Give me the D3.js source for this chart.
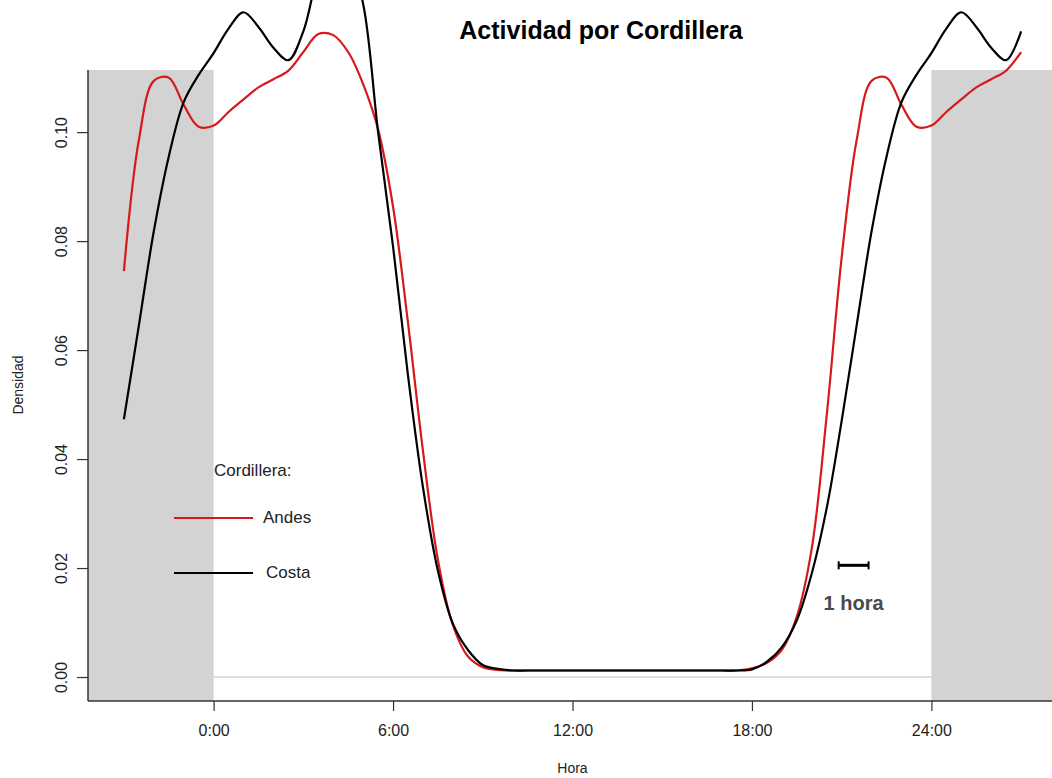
<!DOCTYPE html>
<html>
<head>
<meta charset="utf-8">
<script src="https://cdn.jsdelivr.net/npm/d3@7"></script>
<style>
  body { margin: 0; background: #fff; }
  svg { display: block; font-family: "Liberation Sans", Arial, sans-serif; }
</style>
</head>
<body>
<div id="chart"></div>
<script>
// hours of the day (shown range wraps past 0 and 24)
const hours = [-3, -2.5, -2, -1.5, -1, -0.5, 0, 0.5, 1, 1.5, 2, 2.5, 3, 3.5, 4, 4.5, 5, 5.5, 6, 6.5,
  7, 7.5, 8, 8.5, 9, 9.5, 10, 10.5, 11, 11.5, 12, 12.5, 13, 13.5, 14, 14.5, 15, 15.5, 16, 16.5,
  17, 17.5, 18, 18.5, 19, 19.5, 20, 20.5, 21, 21.5, 22, 22.5, 23, 23.5, 24, 24.5, 25, 25.5, 26, 26.5, 27];

// density, Andes
const andes = [0.0745, 0.0985, 0.1094, 0.1100, 0.1050, 0.1010, 0.1012, 0.1037, 0.1060, 0.1082,
  0.1097, 0.1113, 0.1147, 0.1180, 0.1178, 0.1147, 0.1088, 0.1005, 0.0863, 0.0650,
  0.0415, 0.0215, 0.0095, 0.0038, 0.0018, 0.0013, 0.0012, 0.0012, 0.0012, 0.0012,
  0.0012, 0.0012, 0.0012, 0.0012, 0.0012, 0.0012, 0.0012, 0.0012, 0.0012, 0.0012,
  0.0012, 0.0012, 0.0016, 0.0026, 0.0050, 0.0111, 0.0236, 0.0480, 0.0770, 0.0985,
  0.1094, 0.1100, 0.1050, 0.1010, 0.1012, 0.1037, 0.1060, 0.1082, 0.1097, 0.1113, 0.1147];

// density, Costa
const costa = [0.0473, 0.0645, 0.0818, 0.0955, 0.1055, 0.1105, 0.1145, 0.1190, 0.1220, 0.1193,
  0.1155, 0.1132, 0.1185, 0.1290, 0.1345, 0.1325, 0.1235, 0.1000, 0.0790, 0.0553,
  0.0348, 0.0195, 0.0098, 0.0050, 0.0022, 0.0015, 0.0012, 0.0012, 0.0012, 0.0012,
  0.0012, 0.0012, 0.0012, 0.0012, 0.0012, 0.0012, 0.0012, 0.0012, 0.0012, 0.0012,
  0.0012, 0.0012, 0.0014, 0.0028, 0.0055, 0.0104, 0.0190, 0.0310, 0.0470, 0.0645,
  0.0818, 0.0955, 0.1055, 0.1105, 0.1145, 0.1190, 0.1220, 0.1193, 0.1155, 0.1132, 0.1185];

const series = [
  { name: "Andes", values: andes, color: "#d7191c" },
  { name: "Costa", values: costa, color: "#000000" }
];

const xTicks = [0, 6, 12, 18, 24];
const xTickLabels = ["0:00", "6:00", "12:00", "18:00", "24:00"];
const yTicks = [0, 0.02, 0.04, 0.06, 0.08, 0.10];
const scaleBar = [20.9, 21.9];   // one hour, in hours
const scaleBarY = 0.0205;

const width = 1052, height = 778;

const x = d3.scaleLinear().domain([-4.2, 28.2]).range([88, 1057]);
const y = d3.scaleLinear().domain([-0.0044, 0.1114]).range([701, 70]);

const svg = d3.select("#chart").append("svg")
  .attr("width", width)
  .attr("height", height);

// night shading outside 0-24
svg.append("rect")
  .attr("x", x(-4.2)).attr("y", y(0.1114))
  .attr("width", x(0) - x(-4.2)).attr("height", y(-0.0044) - y(0.1114))
  .attr("fill", "#d3d3d3");
svg.append("rect")
  .attr("x", x(24)).attr("y", y(0.1114))
  .attr("width", x(28.2) - x(24)).attr("height", y(-0.0044) - y(0.1114))
  .attr("fill", "#d3d3d3");

// zero line
svg.append("line")
  .attr("x1", x(0)).attr("x2", x(24))
  .attr("y1", y(0)).attr("y2", y(0))
  .attr("stroke", "#d3d3d3").attr("stroke-width", 1.5);

// axes
const xAxis = svg.append("g")
  .attr("transform", `translate(0,${y(-0.0044)})`)
  .call(d3.axisBottom(x).tickValues(xTicks).tickSize(10).tickPadding(14)
    .tickFormat((d, i) => xTickLabels[i]));
xAxis.select(".domain").attr("d", `M${x(-4.2)},0H${width}`);

const yAxis = svg.append("g")
  .attr("transform", `translate(${x(-4.2)},0)`)
  .call(d3.axisLeft(y).tickValues(yTicks).tickSize(11).tickFormat(d3.format(".2f")));
yAxis.select(".domain").attr("d", `M0,${y(0.1114)}V${y(-0.0044)}`);

svg.selectAll(".domain").attr("stroke", "#333").attr("stroke-width", 1.5);
svg.selectAll(".tick line").attr("stroke", "#333").attr("stroke-width", 1.2);
svg.selectAll(".tick text")
  .attr("fill", "#222")
  .style("font-size", "16px")
  .style("font-family", "'Liberation Sans', Arial, sans-serif");

// rotate y tick labels like base R
yAxis.selectAll(".tick text")
  .attr("x", null).attr("dy", null)
  .attr("text-anchor", "middle")
  .attr("transform", "translate(-21,0) rotate(-90)");

// curves
const line = d3.line()
  .x((d, i) => x(hours[i]))
  .y(d => y(d))
  .curve(d3.curveCatmullRom.alpha(0.5));

svg.selectAll(".curve")
  .data(series)
  .enter()
  .append("path")
  .attr("class", "curve")
  .attr("d", d => line(d.values))
  .attr("fill", "none")
  .attr("stroke", d => d.color)
  .attr("stroke-width", 2.2);

// title and axis titles
svg.append("text")
  .attr("x", 601).attr("y", 39)
  .attr("text-anchor", "middle")
  .style("font-size", "25px").style("font-weight", "bold")
  .text("Actividad por Cordillera");

svg.append("text")
  .attr("x", x(12)).attr("y", 773)
  .attr("text-anchor", "middle")
  .style("font-size", "14px").attr("fill", "#222")
  .text("Hora");

svg.append("text")
  .attr("transform", `translate(23,385) rotate(-90)`)
  .attr("text-anchor", "middle")
  .style("font-size", "14px").attr("fill", "#222")
  .text("Densidad");

// legend
const legend = svg.append("g");
legend.append("text")
  .attr("x", 214).attr("y", 476)
  .style("font-size", "17px").attr("fill", "#222")
  .text("Cordillera:");

const legendRows = [{ s: series[0], y: 518, tx: 263 }, { s: series[1], y: 573, tx: 266 }];
legendRows.forEach(r => {
  legend.append("line")
    .attr("x1", 174).attr("x2", 253)
    .attr("y1", r.y).attr("y2", r.y)
    .attr("stroke", r.s.color).attr("stroke-width", 2.2);
  legend.append("text")
    .attr("x", r.tx).attr("y", r.y - 1).attr("dy", "0.35em")
    .style("font-size", "17px").attr("fill", "#222")
    .text(r.s.name);
});

// one-hour scale bar
const bar = svg.append("g").attr("stroke", "#000").attr("stroke-width", 3);
bar.append("line")
  .attr("x1", x(scaleBar[0])).attr("x2", x(scaleBar[1]))
  .attr("y1", y(scaleBarY)).attr("y2", y(scaleBarY));
scaleBar.forEach(h => {
  bar.append("line")
    .attr("x1", x(h)).attr("x2", x(h))
    .attr("y1", y(scaleBarY) - 4).attr("y2", y(scaleBarY) + 4)
    .attr("stroke-width", 2);
});
svg.append("text")
  .attr("x", x((scaleBar[0] + scaleBar[1]) / 2)).attr("y", 610)
  .attr("text-anchor", "middle")
  .style("font-size", "20px").style("font-weight", "bold")
  .attr("fill", "#4a4a4a")
  .text("1 hora");
</script>
</body>
</html>
